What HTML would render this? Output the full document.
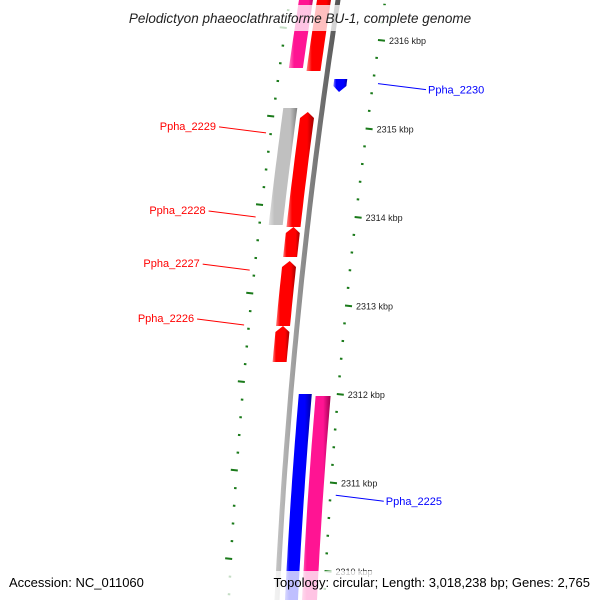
<!DOCTYPE html>
<html><head><meta charset="utf-8"><style>
html,body{margin:0;padding:0;background:#fff}
svg{display:block;font-family:"Liberation Sans",sans-serif}
</style></head><body>
<svg id="map" width="600" height="600" viewBox="0 0 600 600" xmlns="http://www.w3.org/2000/svg">
<defs>
<linearGradient id="g-red" x1="0" x2="1"><stop offset="0" stop-color="#ff8080"/><stop offset="0.2" stop-color="#ff0000"/><stop offset="0.75" stop-color="#ff0000"/><stop offset="1" stop-color="#a00000"/></linearGradient>
<linearGradient id="g-blue" x1="0" x2="1"><stop offset="0" stop-color="#8080ff"/><stop offset="0.2" stop-color="#0000ff"/><stop offset="0.75" stop-color="#0000ff"/><stop offset="1" stop-color="#0000a0"/></linearGradient>
<linearGradient id="g-pink" x1="0" x2="1"><stop offset="0" stop-color="#ff80c0"/><stop offset="0.2" stop-color="#ff1493"/><stop offset="0.75" stop-color="#ff1493"/><stop offset="1" stop-color="#a00050"/></linearGradient>
<linearGradient id="g-gray" x1="0" x2="1"><stop offset="0" stop-color="#e0e0e0"/><stop offset="0.2" stop-color="#c0c0c0"/><stop offset="0.75" stop-color="#c0c0c0"/><stop offset="1" stop-color="#808080"/></linearGradient>
<linearGradient id="g-bb" x1="0" x2="1"><stop offset="0" stop-color="#c8c8c8"/><stop offset="0.4" stop-color="#909090"/><stop offset="1" stop-color="#505050"/></linearGradient>
</defs>
<g id="ticks"></g>
<g id="feats"></g>
<g id="labels"></g>
<rect x="0" y="5" width="600" height="26" fill="#fff" fill-opacity="0.75"/>
<text x="300" y="23" text-anchor="middle" font-size="13.5" font-style="italic" fill="#222">Pelodictyon phaeoclathratiforme BU-1, complete genome</text>
<rect x="0" y="571" width="600" height="29" fill="#fff" fill-opacity="0.75"/>
<text x="9" y="587" font-size="13" fill="#000">Accession: NC_011060</text>
<text x="590" y="587" text-anchor="end" font-size="13" fill="#000">Topology: circular; Length: 3,018,238 bp; Genes: 2,765</text>
</svg>
<script>
const featStart = [2316.6, 2316.6, 2315.559, 2315.232, 2315.186, 2313.887, 2313.503, 2312.768, 2312.000, 2311.977];
const featEnd   = [2315.684, 2315.650, 2315.412, 2313.910, 2313.887, 2313.548, 2312.768, 2312.362, 2309.4, 2309.4];
const featColor = ['pink','red','blue','gray','red','red','red','red','blue','pink'];
const featLane  = [0,1,2,0,1,1,1,1,2,3];
const featArrow = ['none','none','down','none','up','up','up','up','none','none'];
const tickLabels = [2316,2315,2314,2313,2312,2311,2310];
const featLabels = ['Ppha_2229','Ppha_2228','Ppha_2227','Ppha_2226','Ppha_2230','Ppha_2225'];
const labelKbp = [2314.95,2314.0,2313.4,2312.78,2315.45,2310.8];
const labelSide = ['left','left','left','left','right','right'];
const labelColor = ['#f00','#f00','#f00','#f00','#00f','#00f'];

const NS='http://www.w3.org/2000/svg';
function yOf(k){return 40+(2316-k)*88.5;}
function bx(y){return 338-0.1545*y+8.81e-5*y*y;}
const laneOff=[[-39,-25],[-21,-7],[8,21],[25,40]];
function mk(t,a,parent){const e=document.createElementNS(NS,t);for(const k in a)e.setAttribute(k,a[k]);parent.appendChild(e);return e;}

// backbone
const bb=document.getElementById('feats');
let bp=[];for(let y=-10;y<=610;y+=10)bp.push((bx(y)-2.5).toFixed(1)+','+y);
let bp2=[];for(let y=610;y>=-10;y-=10)bp2.push((bx(y)+2.5).toFixed(1)+','+y);
const bbe=mk('polygon',{points:bp.concat(bp2).join(' '),fill:'url(#g-bb)'},bb);



// features
for(let i=0;i<featStart.length;i++){
  const y1=yOf(featStart[i]),y2=yOf(featEnd[i]);
  const [o1,o2]=laneOff[featLane[i]];
  const L=[],R=[];const ah=6;
  let ya=y1,yb=y2;
  if(featArrow[i]==='up')ya=y1+ah;
  if(featArrow[i]==='down')yb=y2-ah;
  const n=Math.max(2,Math.ceil((yb-ya)/10));
  for(let j=0;j<=n;j++){const y=ya+(yb-ya)*j/n;L.push([bx(y)+o1,y]);R.push([bx(y)+o2,y]);}
  let pts=[];
  if(featArrow[i]==='up'){pts.push([bx(y1)+(o1+o2)/2,y1]);}
  pts=pts.concat(R);
  if(featArrow[i]==='down'){pts.push([bx(y2)+(o1+o2)/2,y2]);}
  pts=pts.concat(L.reverse());
  const p=mk('polygon',{points:pts.map(q=>q[0].toFixed(1)+','+q[1].toFixed(1)).join(' '),fill:'url(#g-'+featColor[i]+')'},bb);
  
  
}

// ticks
const tg=document.getElementById('ticks');
for(let s=0;s<=36;s++){
  const k=2309.4+s*0.2;const y=yOf(k);
  const major=Math.abs(k-Math.round(k))<0.01;
  const len=major?7:2.5;
  const xr=bx(y)+46;
  const t=mk('line',{x1:xr,y1:y,x2:xr+len,y2:y+len*0.1,stroke:'#1a7a1a','stroke-width':2},tg);
  
  
  const yl=y-12;const xl=bx(yl)-47;
  const t2=mk('line',{x1:xl-len,y1:yl-len*0.1,x2:xl,y2:yl,stroke:'#1a7a1a','stroke-width':2},tg);
  
  
}
tickLabels.forEach(k=>{const y=yOf(k);
  const t=mk('text',{x:bx(y)+57,y:y+4,'font-size':9,fill:'#222'},tg);t.textContent=k+' kbp';
  
  });

// labels
const lg=document.getElementById('labels');
featLabels.forEach((s,i)=>{
  const y=yOf(labelKbp[i]);
  let x1,x2,tx,anchor;
  if(labelSide[i]==='left'){x2=bx(y)-53;x1=x2-47;tx=x1-3;anchor='end';
    const l=mk('line',{x1:x1,y1:y-6,x2:x2,y2:y,stroke:labelColor[i],'stroke-width':1},lg);
    
  } else {x1=bx(y)+53;x2=x1+48;tx=x2+2;anchor='start';
    const l=mk('line',{x1:x1,y1:y-5,x2:x2,y2:y+1,stroke:labelColor[i],'stroke-width':1},lg);
    
  }
  const t=mk('text',{x:tx,y:labelSide[i]==='left'?y-3:y+5,'text-anchor':anchor,'font-size':11,fill:labelColor[i]},lg);
  t.textContent=s;
  
  
});
</script>
</body></html>
